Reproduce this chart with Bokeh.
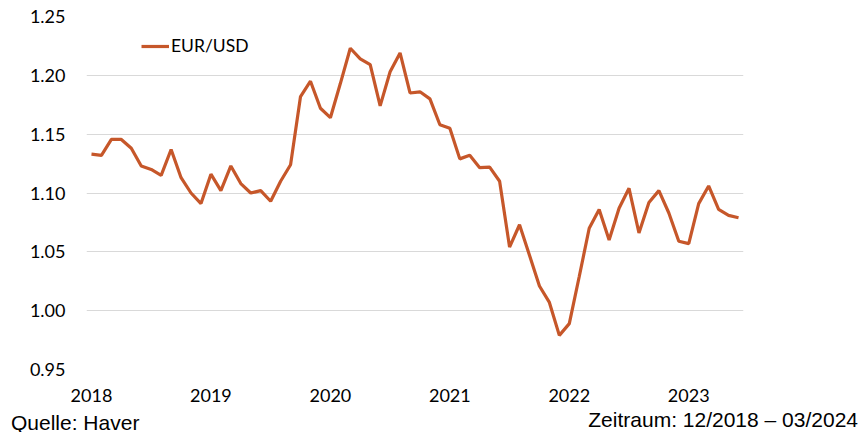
from bokeh.plotting import figure
from bokeh.layouts import column
from bokeh.models import Range1d, FixedTicker, NumeralTickFormatter, Legend, LegendItem, Div
from bokeh.embed import file_html
from bokeh.resources import INLINE

# monthly EUR/USD, starting at 2018 tick
eurusd = [1.133, 1.132, 1.1455, 1.1455, 1.138, 1.123, 1.120, 1.115, 1.137, 1.113,
          1.100, 1.091, 1.116, 1.102, 1.123, 1.108, 1.100, 1.102, 1.093, 1.110,
          1.124, 1.182, 1.195, 1.172, 1.164, 1.193, 1.223, 1.214, 1.209, 1.174,
          1.203, 1.219, 1.185, 1.186, 1.180, 1.158, 1.155, 1.129, 1.132, 1.1215,
          1.122, 1.110, 1.054, 1.073, 1.047, 1.021, 1.007, 0.979, 0.989, 1.029,
          1.070, 1.086, 1.060, 1.087, 1.104, 1.066, 1.092, 1.102, 1.083, 1.059,
          1.057, 1.091, 1.106, 1.086, 1.081, 1.079]
start_year = 2018
year_ticks = [2018, 2019, 2020, 2021, 2022, 2023]
y_ticks = [0.95, 1.00, 1.05, 1.10, 1.15, 1.20, 1.25]
series_name = "EUR/USD"
source_text = "Quelle: Haver"
period_text = "Zeitraum: 12/2018 \u2013 03/2024"

xs = [start_year + i / 12 for i in range(len(eurusd))]

W = 862
H1, H2 = 410, 22
p = figure(width=W, height=H1, output_backend="svg", toolbar_location=None,
           x_range=Range1d(start_year - 0.5 / 12, start_year + (len(eurusd) - 0.5) / 12),
           y_range=Range1d(0.95, 1.25))
p.min_border_left = 86
p.min_border_right = W - 743
p.min_border_top = 16
p.min_border_bottom = H1 - 369
p.outline_line_color = None
p.background_fill_color = "white"
p.border_fill_color = "white"

r = p.line(xs, eurusd, line_color="#C6572A", line_width=3.2)

p.xgrid.grid_line_color = None
p.ygrid.grid_line_color = "#D9D9D9"
p.ygrid.grid_line_width = 1
p.ygrid.ticker = FixedTicker(ticks=y_ticks)

p.yaxis.ticker = FixedTicker(ticks=y_ticks)
p.yaxis.formatter = NumeralTickFormatter(format="0.00")
p.xaxis.ticker = FixedTicker(ticks=year_ticks)
for ax in (p.xaxis, p.yaxis):
    ax.axis_line_color = None
    ax.major_tick_line_color = None
    ax.minor_tick_line_color = None
    ax.major_tick_in = 0
    ax.major_tick_out = 0
    ax.minor_tick_out = 0
    ax.major_label_text_font = "Lato"
    ax.major_label_text_font_size = "18px"
    ax.major_label_text_color = "#000000"
p.yaxis.major_label_standoff = 21
p.xaxis.major_label_standoff = 19

legend = Legend(items=[LegendItem(label=series_name, renderers=[r])],
                location=(55, 313), border_line_color=None, background_fill_alpha=0,
                padding=0, margin=0, glyph_width=28, glyph_height=20, label_height=20,
                label_standoff=2, label_text_font="Lato", label_text_font_size="17.5px",
                label_text_color="#000000")
p.add_layout(legend)

# footer strip with source and period notes (real HTML text)
footer_html = (
    f'<div style="position:relative;width:{W}px;height:{H2}px;'
    "font-family:'Liberation Sans',Arial,sans-serif;font-size:21px;color:#000;"
    'line-height:normal;white-space:nowrap;">'
    f'<span style="position:absolute;left:11px;top:3.7px;line-height:18px;">{source_text}</span>'
    f'<span style="position:absolute;right:4px;top:-2px;">{period_text}</span>'
    '</div>'
)
footer = Div(text=footer_html, width=W, height=H2, margin=0,
             styles={"overflow": "visible"})

open("out.html", "w").write(file_html(column(p, footer, spacing=0), INLINE))
